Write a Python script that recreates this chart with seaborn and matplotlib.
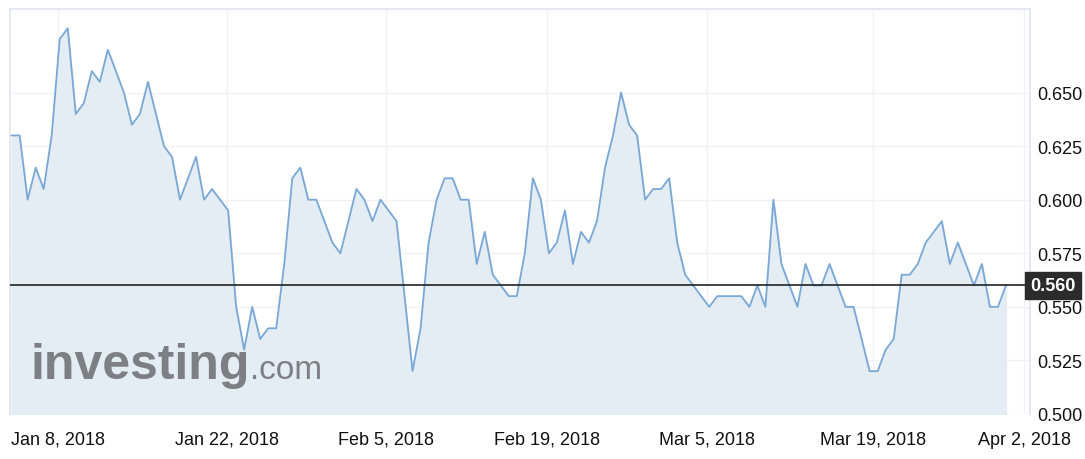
import matplotlib
matplotlib.use("Agg")
import matplotlib.pyplot as plt
import seaborn as sns
import pandas as pd

values = [0.630,0.630,0.600,0.615,0.605,0.630,0.675,0.680,0.640,0.645,
          0.660,0.655,0.670,0.660,0.650,0.635,0.640,0.655,0.640,0.625,
          0.620,0.600,0.610,0.620,0.600,0.605,0.600,0.595,0.550,0.530,
          0.550,0.535,0.540,0.540,0.570,0.610,0.615,0.600,0.600,0.590,
          0.580,0.575,0.590,0.605,0.600,0.590,0.600,0.595,0.590,0.555,
          0.520,0.540,0.580,0.600,0.610,0.610,0.600,0.600,0.570,0.585,
          0.565,0.560,0.555,0.555,0.575,0.610,0.600,0.575,0.580,0.595,
          0.570,0.585,0.580,0.590,0.615,0.630,0.650,0.635,0.630,0.600,
          0.605,0.605,0.610,0.580,0.565,0.560,0.555,0.550,0.555,0.555,
          0.555,0.555,0.550,0.560,0.550,0.600,0.570,0.560,0.550,0.570,
          0.560,0.560,0.570,0.560,0.550,0.550,0.535,0.520,0.520,0.530,
          0.535,0.565,0.565,0.570,0.580,0.585,0.590,0.570,0.580,0.570,
          0.560,0.570,0.550,0.550,0.560]
tick_labels = ["Jan 8, 2018","Jan 22, 2018","Feb 5, 2018","Feb 19, 2018",
               "Mar 5, 2018","Mar 19, 2018","Apr 2, 2018"]
tick_pos = [5.8, 26.8, 46.7, 66.8, 86.7, 107.4, 126.3]
y_ticks = [0.500, 0.525, 0.550, 0.575, 0.600, 0.625, 0.650]
last_value = 0.560

df = pd.DataFrame({"i": range(len(values)), "v": values})

sns.set_theme(style="white")
plt.rcParams["font.family"] = ["Liberation Sans", "DejaVu Sans"]
fig = plt.figure(figsize=(10.85, 4.6), dpi=100)
ax = fig.add_axes([10/1085, 45/460, 1020/1085, 405/460])

ax.fill_between(df["i"], df["v"], 0.5, color="#e4edf3", zorder=1)
sns.lineplot(data=df, x="i", y="v", ax=ax, color="#7aa8d6", linewidth=1.3, zorder=3)
ax.axhline(last_value, color="#222222", linewidth=1.2, zorder=4)

ax.set_xlim(-0.2, 127.0)
ax.set_ylim(0.500, 0.689)
ax.set_xticks(tick_pos)
ax.set_xticklabels(tick_labels, fontsize=13, color="#111111")
ax.set_yticks(y_ticks)
ax.set_yticklabels([f"{t:.3f}" for t in y_ticks], fontsize=13, color="#111111")
ax.yaxis.tick_right()
ax.tick_params(axis="x", length=0, pad=12)
ax.tick_params(axis="y", length=0, pad=5)
ax.grid(True, color="#f2f2f6", linewidth=1, zorder=0)
ax.set_xlabel("")
ax.set_ylabel("")
for s in ["left", "top", "right"]:
    ax.spines[s].set_color("#e4e4f0")
ax.spines["bottom"].set_visible(False)

ax.text(1.0, last_value, f"{last_value:.3f}", transform=ax.get_yaxis_transform(),
        fontsize=13, fontweight="bold", color="white", va="center", ha="left",
        bbox=dict(boxstyle="square,pad=0.3", fc="#2b2b2b", ec="#2b2b2b"), zorder=6,
        clip_on=False)

t1 = ax.text(0.02, 0.12, "investing", transform=ax.transAxes, fontsize=36,
             fontweight="bold", color="#7d7f84", va="center", ha="left", zorder=2)
fig.canvas.draw()
bb = t1.get_window_extent(fig.canvas.get_renderer()).transformed(ax.transAxes.inverted())
ax.text(bb.x1, 0.11, ".com", transform=ax.transAxes, fontsize=24,
        color="#7d7f84", va="center", ha="left", zorder=2)

fig.savefig("out.png", dpi=100)
